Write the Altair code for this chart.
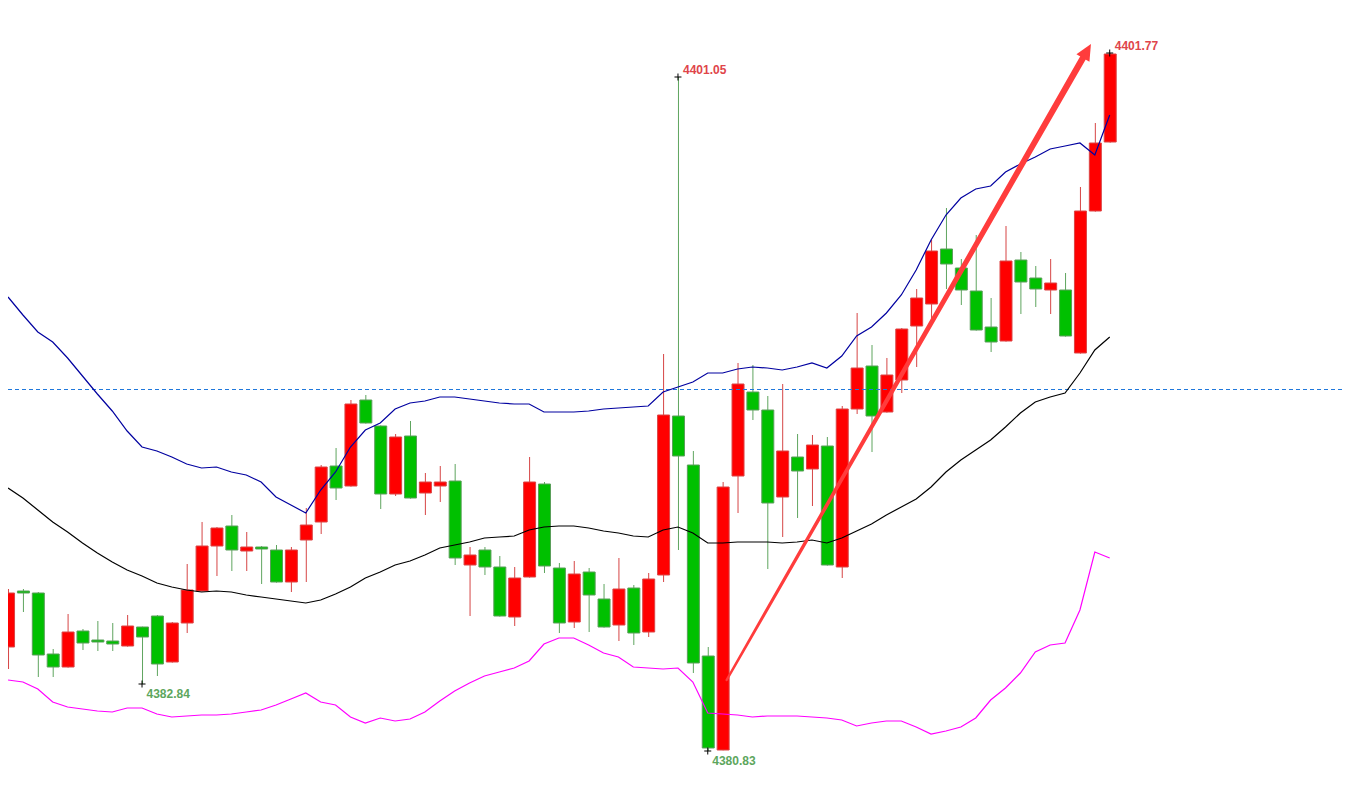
import altair as alt
import pandas as pd

# ---------------- data ----------------
opens = [4383.95, 4385.63, 4385.57, 4383.74, 4383.35, 4384.43, 4384.16, 4384.13, 4383.98, 4384.55,
         4384.88, 4383.50, 4384.67, 4385.63, 4386.98, 4387.58, 4386.83, 4386.95, 4386.86, 4385.90,
         4387.16, 4387.70, 4389.38, 4388.78, 4391.36, 4390.58, 4388.54, 4390.28, 4388.57, 4388.78,
         4388.93, 4386.41, 4386.86, 4386.35, 4384.85, 4386.05, 4388.84, 4386.32, 4384.70, 4386.20,
         4385.39, 4384.61, 4385.72, 4384.40, 4386.11, 4390.88, 4389.41, 4383.68, 4380.86, 4389.08,
         4391.60, 4391.06, 4388.45, 4389.65, 4389.29, 4389.98, 4386.35, 4391.09, 4392.38, 4391.00,
         4391.96, 4393.58, 4394.24, 4395.89, 4395.32, 4394.63, 4393.55, 4393.13, 4395.56, 4395.02,
         4394.66, 4394.66, 4392.77, 4397.03, 4399.10]
highs = [4385.69, 4385.69, 4385.60, 4383.89, 4384.94, 4384.49, 4384.73, 4384.67, 4384.91, 4384.56,
         4384.91, 4384.70, 4386.44, 4387.70, 4387.55, 4387.91, 4387.40, 4386.98, 4387.01, 4386.95,
         4388.12, 4389.41, 4389.92, 4391.36, 4391.51, 4390.60, 4390.34, 4390.73, 4389.17, 4389.38,
         4389.44, 4386.95, 4386.95, 4386.68, 4386.35, 4389.65, 4388.90, 4386.47, 4386.53, 4386.32,
         4385.84, 4386.62, 4385.81, 4386.17, 4392.74, 4401.05, 4389.83, 4383.95, 4388.90, 4392.47,
         4392.41, 4391.48, 4391.84, 4390.34, 4390.31, 4390.25, 4391.18, 4393.97, 4393.01, 4392.62,
         4393.52, 4394.69, 4396.16, 4397.12, 4395.59, 4396.31, 4394.42, 4396.58, 4395.80, 4395.38,
         4395.59, 4395.17, 4397.75, 4399.67, 4401.77]
lows = [4383.29, 4385.00, 4383.05, 4383.05, 4383.33, 4383.86, 4383.83, 4383.83, 4383.96, 4382.84,
        4383.08, 4383.48, 4384.37, 4385.62, 4386.08, 4386.23, 4386.23, 4385.84, 4385.88, 4385.60,
        4385.90, 4387.34, 4388.36, 4388.76, 4390.65, 4388.09, 4388.48, 4388.40, 4387.91, 4388.30,
        4386.41, 4384.88, 4386.11, 4384.86, 4384.58, 4386.03, 4386.17, 4384.37, 4384.52, 4384.40,
        4384.53, 4384.13, 4384.01, 4384.25, 4385.90, 4386.86, 4383.17, 4380.83, 4380.85, 4387.97,
        4390.76, 4386.29, 4387.25, 4387.82, 4388.18, 4386.39, 4386.02, 4390.94, 4389.80, 4390.98,
        4391.57, 4392.35, 4393.76, 4394.69, 4394.21, 4393.44, 4392.80, 4393.11, 4393.94, 4394.15,
        4393.94, 4393.26, 4392.75, 4397.01, 4399.08]
closes = [4385.57, 4385.57, 4383.71, 4383.35, 4384.40, 4384.07, 4384.10, 4384.04, 4384.58, 4384.25,
          4383.44, 4384.67, 4385.66, 4386.98, 4387.52, 4386.86, 4386.95, 4386.89, 4385.90, 4386.86,
          4387.61, 4389.35, 4388.72, 4391.24, 4390.67, 4388.54, 4390.25, 4388.42, 4388.90, 4388.90,
          4386.62, 4386.71, 4386.35, 4384.88, 4386.02, 4388.90, 4386.38, 4384.67, 4386.14, 4385.51,
          4384.55, 4385.69, 4384.37, 4385.99, 4390.91, 4389.68, 4383.47, 4380.92, 4388.75, 4391.84,
          4391.06, 4388.27, 4389.83, 4389.23, 4390.01, 4386.41, 4391.09, 4392.32, 4390.88, 4392.11,
          4393.49, 4394.42, 4395.83, 4395.44, 4394.66, 4393.46, 4393.10, 4395.53, 4394.90, 4394.69,
          4394.87, 4393.28, 4397.03, 4399.07, 4401.74]

boll_upper = [4394.45, 4393.91, 4393.40, 4393.10, 4392.62, 4392.08, 4391.54, 4391.03, 4390.43, 4389.95,
              4389.83, 4389.65, 4389.44, 4389.32, 4389.35, 4389.20, 4389.11, 4388.90, 4388.45, 4388.21,
              4387.97, 4388.66, 4389.20, 4389.95, 4390.46, 4390.67, 4391.09, 4391.27, 4391.33, 4391.45,
              4391.45, 4391.39, 4391.33, 4391.27, 4391.24, 4391.24, 4391.00, 4391.00, 4391.00, 4391.03,
              4391.09, 4391.12, 4391.15, 4391.18, 4391.60, 4391.75, 4391.90, 4392.17, 4392.17, 4392.29,
              4392.35, 4392.32, 4392.26, 4392.35, 4392.47, 4392.32, 4392.68, 4393.28, 4393.55, 4393.97,
              4394.51, 4395.26, 4396.16, 4396.91, 4397.42, 4397.69, 4397.78, 4398.20, 4398.44, 4398.65,
              4398.89, 4398.98, 4399.07, 4398.71, 4399.91]
boll_mid = [4388.72, 4388.42, 4388.06, 4387.70, 4387.40, 4387.07, 4386.77, 4386.50, 4386.26, 4386.08,
            4385.87, 4385.75, 4385.66, 4385.60, 4385.63, 4385.60, 4385.51, 4385.45, 4385.39, 4385.33,
            4385.27, 4385.36, 4385.54, 4385.75, 4386.02, 4386.20, 4386.41, 4386.53, 4386.71, 4386.92,
            4387.01, 4387.10, 4387.22, 4387.25, 4387.28, 4387.46, 4387.55, 4387.58, 4387.58, 4387.52,
            4387.43, 4387.37, 4387.28, 4387.25, 4387.46, 4387.55, 4387.37, 4387.07, 4387.07, 4387.10,
            4387.10, 4387.10, 4387.07, 4387.10, 4387.16, 4387.07, 4387.22, 4387.43, 4387.64, 4387.91,
            4388.15, 4388.39, 4388.75, 4389.20, 4389.56, 4389.86, 4390.16, 4390.55, 4390.97, 4391.30,
            4391.45, 4391.57, 4392.17, 4392.86, 4393.25]
boll_lower = [4382.96, 4382.90, 4382.69, 4382.30, 4382.15, 4382.09, 4382.03, 4382.00, 4382.12, 4382.12,
              4381.94, 4381.85, 4381.88, 4381.91, 4381.91, 4381.94, 4382.00, 4382.06, 4382.21, 4382.39,
              4382.57, 4382.30, 4382.21, 4381.85, 4381.67, 4381.82, 4381.73, 4381.79, 4382.00, 4382.33,
              4382.63, 4382.87, 4383.08, 4383.20, 4383.32, 4383.53, 4384.04, 4384.22, 4384.22, 4384.01,
              4383.77, 4383.65, 4383.35, 4383.32, 4383.29, 4383.32, 4382.90, 4381.97, 4381.94, 4381.91,
              4381.85, 4381.88, 4381.88, 4381.88, 4381.85, 4381.82, 4381.76, 4381.58, 4381.67, 4381.73,
              4381.73, 4381.55, 4381.34, 4381.43, 4381.55, 4381.82, 4382.36, 4382.72, 4383.17, 4383.80,
              4384.01, 4384.07, 4385.06, 4386.80, 4386.62]

ref_level = [4391.69]

# annotations: extreme labels
hi_idx = [45, 74]
hi_price = [4401.05, 4401.77]
hi_text = ["4401.05", "4401.77"]
lo_idx = [9, 47]
lo_price = [4382.84, 4380.83]
lo_text = ["4382.84", "4380.83"]

# trend arrow (index, price)
arrow_idx = [48.27, 72.2]
arrow_price = [4382.96, 4401.62]
arrow_w = [2.5, 6.5]
arrow_head_idx = [72.47]
arrow_head_price = [4401.83]

# ---------------- styling ----------------
RED = "#FF0000"
RED_EDGE = "#DC4545"
RED_WICK = "#D64545"
GREEN = "#00C000"
GREEN_EDGE = "#5A9E5A"
GREEN_WICK = "#5FA55F"
LABEL_RED = "#E0454A"
LABEL_GREEN = "#5DA65D"
ARROW = "#FF3C3C"

W, H = 1334, 792
xs = alt.Scale(domain=[1 / 3, 89.2667], nice=False, zero=False)
ys = alt.Scale(domain=[4379.36, 4403.12], nice=False, zero=False)

df = pd.DataFrame({
    "i": list(range(len(opens))),
    "open": opens, "high": highs, "low": lows, "close": closes,
    "upper": boll_upper, "mid": boll_mid, "lower": boll_lower,
})

base = alt.Chart(df)
X = alt.X("i:Q", scale=xs, axis=None)
up = "datum.close >= datum.open"

wicks = base.mark_rule(strokeWidth=1, xOffset=0.5).encode(
    x=X,
    y=alt.Y("low:Q", scale=ys, axis=None),
    y2="high:Q",
    color=alt.condition(up, alt.value(RED_WICK), alt.value(GREEN_WICK)),
)

bodies = base.mark_bar(size=12, strokeWidth=1, xOffset=0.5).encode(
    x=X,
    y=alt.Y("open:Q", scale=ys, axis=None),
    y2="close:Q",
    fill=alt.condition(up, alt.value(RED), alt.value(GREEN)),
    stroke=alt.condition(up, alt.value(RED_EDGE), alt.value(GREEN_EDGE)),
)

level = alt.Chart(pd.DataFrame({"level": ref_level})).mark_rule(
    strokeDash=[4, 3], color="#1F78DC", strokeWidth=1, yOffset=0.5
).encode(y=alt.Y("level:Q", scale=ys, axis=None))

upper_line = base.mark_line(color="#0000A0", strokeWidth=1.2).encode(
    x=X, y=alt.Y("upper:Q", scale=ys, axis=None))
mid_line = base.mark_line(color="#000000", strokeWidth=1.2).encode(
    x=X, y=alt.Y("mid:Q", scale=ys, axis=None))
lower_line = base.mark_line(color="#FF00FF", strokeWidth=1.2).encode(
    x=X, y=alt.Y("lower:Q", scale=ys, axis=None))

arrow_df = pd.DataFrame({"i": arrow_idx, "p": arrow_price, "w": arrow_w})
arrow = alt.Chart(arrow_df).mark_trail(color=ARROW).encode(
    x=X,
    y=alt.Y("p:Q", scale=ys, axis=None),
    size=alt.Size("w:Q", scale=None, legend=None),
)
head = alt.Chart(pd.DataFrame({"i": arrow_head_idx, "p": arrow_head_price})).mark_point(
    shape="M0,-1L0.94,1L-0.94,1Z", size=256, filled=True, color=ARROW, opacity=1, angle=30
).encode(x=X, y=alt.Y("p:Q", scale=ys, axis=None))

ext_df = pd.DataFrame({"i": hi_idx + lo_idx, "p": hi_price + lo_price})
crosses = alt.Chart(ext_df).mark_point(
    shape="M-1,0L1,0M0,-1L0,1", size=49, filled=False, color="#000000", strokeWidth=1, opacity=1
).encode(x=X, y=alt.Y("p:Q", scale=ys, axis=None))

hi_labels = alt.Chart(pd.DataFrame({"i": hi_idx, "p": hi_price, "t": hi_text})).mark_text(
    align="left", baseline="middle", dx=5, dy=-7.5, font="Liberation Sans",
    fontSize=12, fontWeight="bold", color=LABEL_RED
).encode(x=X, y=alt.Y("p:Q", scale=ys, axis=None), text="t:N")

lo_labels = alt.Chart(pd.DataFrame({"i": lo_idx, "p": lo_price, "t": lo_text})).mark_text(
    align="left", baseline="middle", dx=4.5, dy=10, font="Liberation Sans",
    fontSize=12, fontWeight="bold", color=LABEL_GREEN
).encode(x=X, y=alt.Y("p:Q", scale=ys, axis=None), text="t:N")

chart = alt.layer(
    wicks, bodies, level, upper_line, mid_line, lower_line,
    arrow, head, crosses, hi_labels, lo_labels
).properties(
    width=W, height=H,
    autosize=alt.AutoSizeParams(type="none"),
    padding=0,
    background="white",
).configure_view(stroke=None)

chart.save("out.html", embed_options={"renderer": "svg", "actions": False})
